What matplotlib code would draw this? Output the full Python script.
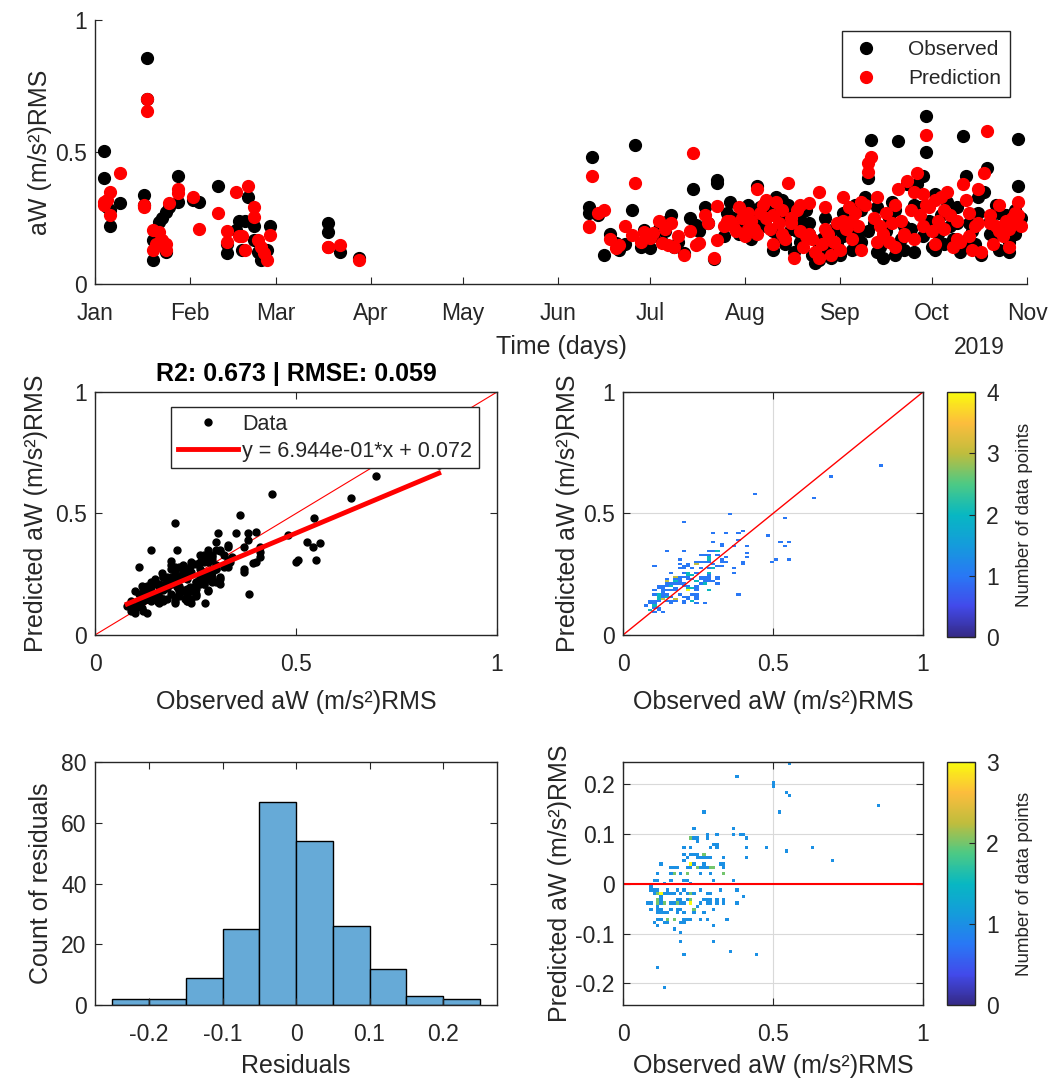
import numpy as np
import pandas as pd
import matplotlib
matplotlib.use("Agg")
import matplotlib.pyplot as plt
import matplotlib.dates as mdates
from matplotlib.colors import LinearSegmentedColormap
from matplotlib.ticker import FormatStrFormatter

# day of year (0 = 1 Jan 2019), observed and predicted aW values
days = [3, 3, 4, 5, 5, 8, 17, 17, 16, 16, 19, 19, 20, 21, 22, 23, 23, 24, 27, 27,
        32, 34, 40, 43, 43, 46, 47, 48, 49, 50, 52, 52, 53, 54, 55, 56, 57, 76, 76, 80, 86,
        161, 161, 162, 164, 166, 168, 170, 171, 173, 175, 176, 178, 179, 180, 181, 182, 184, 185, 186, 187,
        188, 189, 190, 192, 194, 195, 196, 197, 199, 200, 202, 203, 203, 205, 206, 207, 208, 209, 210, 211,
        212, 213, 213, 214, 215, 216, 216, 217, 218, 219, 219, 220, 221, 221, 222, 223, 224, 224, 225, 226,
        227, 227, 228, 229, 230, 230, 231, 232, 233, 233, 234, 235, 236, 236, 237, 238, 238, 239, 240, 241,
        241, 242, 243, 244, 244, 245, 246, 247, 247, 248, 249, 250, 250, 251, 252, 252, 253, 254, 255, 255,
        256, 257, 257, 258,
        259, 260, 261, 261, 262, 263, 264, 264, 265, 266, 267, 267, 268, 269, 270, 270, 271, 271, 272, 273,
        274, 274, 275, 276, 277, 277, 278, 279, 280, 281, 281, 282, 283, 284, 285, 285, 286, 287, 288, 288,
        289, 290, 291, 292, 292, 293, 294, 295, 295, 296, 297, 298, 298, 299, 300, 300, 301, 301, 302]

observed = [0.505, 0.40, 0.29, 0.22, 0.28, 0.305, 0.855, 0.70, 0.337, 0.30, 0.167, 0.09, 0.17, 0.236, 0.25,
            0.274, 0.12, 0.29, 0.41, 0.31, 0.32, 0.31, 0.37, 0.117, 0.15, 0.205, 0.24, 0.13, 0.24, 0.33,
            0.22, 0.167, 0.12, 0.09, 0.10, 0.13, 0.22, 0.23, 0.198, 0.123, 0.10,
            0.29, 0.27, 0.48, 0.26, 0.11, 0.19, 0.156, 0.13, 0.15, 0.28, 0.527, 0.14, 0.205, 0.17, 0.136,
            0.18, 0.21, 0.16, 0.20, 0.24, 0.26, 0.14, 0.16, 0.117, 0.25, 0.36, 0.223, 0.20, 0.29, 0.23,
            0.095, 0.394, 0.383, 0.18, 0.27, 0.31, 0.25, 0.21, 0.19, 0.23,
            0.22, 0.19, 0.30, 0.17, 0.26, 0.37, 0.21, 0.29, 0.24, 0.22, 0.28, 0.27, 0.20, 0.13, 0.33,
            0.18, 0.25, 0.32, 0.15, 0.30, 0.28, 0.21, 0.12, 0.20, 0.16, 0.26, 0.23, 0.28, 0.19, 0.23,
            0.11, 0.08, 0.14, 0.09, 0.17, 0.25, 0.18, 0.12, 0.10, 0.21, 0.13, 0.15, 0.11, 0.18, 0.27,
            0.27, 0.24, 0.13, 0.20, 0.30, 0.19, 0.28, 0.16, 0.33, 0.20, 0.40, 0.545, 0.23, 0.12, 0.29,
            0.14, 0.10, 0.21, 0.20,
            0.25, 0.31, 0.11, 0.28, 0.542, 0.17, 0.13, 0.22, 0.38, 0.21, 0.12, 0.30, 0.38, 0.29, 0.41,
            0.18, 0.636, 0.50, 0.24, 0.14, 0.34, 0.13, 0.19, 0.26, 0.15, 0.33, 0.31, 0.22, 0.17, 0.29,
            0.23, 0.12, 0.559, 0.41, 0.23, 0.14, 0.20, 0.15, 0.27, 0.33, 0.11, 0.35, 0.44, 0.24, 0.19,
            0.18, 0.30, 0.13, 0.27, 0.21, 0.26, 0.16, 0.12, 0.22, 0.19, 0.28, 0.55, 0.37, 0.25]

predicted = [0.31, 0.30, 0.32, 0.26, 0.35, 0.42, 0.70, 0.655, 0.30, 0.29, 0.205, 0.13, 0.15, 0.197, 0.167,
             0.13, 0.15, 0.308, 0.36, 0.345, 0.33, 0.21, 0.27, 0.20, 0.16, 0.35, 0.18, 0.18, 0.13, 0.37,
             0.29, 0.255, 0.167, 0.14, 0.117, 0.09, 0.186, 0.14, 0.14, 0.148, 0.09,
             0.217, 0.22, 0.41, 0.27, 0.28, 0.17, 0.136, 0.148, 0.22, 0.186, 0.384, 0.16, 0.198, 0.186, 0.174,
             0.193, 0.24, 0.155, 0.21, 0.148, 0.23, 0.14, 0.18, 0.11, 0.20, 0.495, 0.148, 0.155, 0.26, 0.23,
             0.10, 0.295, 0.167, 0.22, 0.24, 0.24, 0.22, 0.20, 0.29, 0.25,
             0.18, 0.21, 0.27, 0.24, 0.21, 0.36, 0.19, 0.27, 0.30, 0.25, 0.32, 0.21, 0.26, 0.15, 0.31,
             0.23, 0.19, 0.28, 0.17, 0.384, 0.25, 0.23, 0.10, 0.28, 0.20, 0.30, 0.14, 0.18, 0.306, 0.19,
             0.17, 0.12, 0.35, 0.10, 0.15, 0.293, 0.21, 0.19, 0.11, 0.16, 0.16, 0.23, 0.13, 0.24, 0.33,
             0.21, 0.29, 0.17, 0.24, 0.27, 0.22, 0.31, 0.13, 0.30, 0.46, 0.425, 0.48, 0.25, 0.16, 0.33,
             0.22, 0.18, 0.19, 0.27,
             0.16, 0.23, 0.14, 0.30, 0.36, 0.24, 0.19, 0.18, 0.39, 0.28, 0.17, 0.35, 0.42, 0.26, 0.34,
             0.22, 0.564, 0.30, 0.29, 0.20, 0.32, 0.15, 0.24, 0.33, 0.21, 0.28, 0.35, 0.26, 0.14, 0.24,
             0.17, 0.16, 0.38, 0.32, 0.27, 0.18, 0.13, 0.22, 0.23, 0.36, 0.12, 0.42, 0.58, 0.26, 0.23,
             0.15, 0.22, 0.20, 0.30, 0.18, 0.24, 0.21, 0.14, 0.25, 0.27, 0.23, 0.31, 0.26, 0.22]

# residual histogram (bin edges -0.25..0.25, width 0.05)
hist_edges = [-0.25, -0.2, -0.15, -0.1, -0.05, 0.0, 0.05, 0.1, 0.15, 0.2, 0.25]
hist_counts = [2, 2, 9, 25, 67, 54, 26, 12, 3, 2]

fit_slope = 0.6944
fit_intercept = 0.072
r2_text = "R2: 0.673 | RMSE: 0.059"

plt.rcParams["font.family"] = ["Liberation Sans", "DejaVu Sans"]
plt.rcParams["font.size"] = 16.5
dark = "#262626"
for k in ["axes.edgecolor", "text.color", "xtick.color", "ytick.color", "axes.labelcolor"]:
    plt.rcParams[k] = dark
plt.rcParams["xtick.direction"] = "in"
plt.rcParams["ytick.direction"] = "in"
plt.rcParams["xtick.major.size"] = 5
plt.rcParams["ytick.major.size"] = 5
plt.rcParams["xtick.major.pad"] = 13
plt.rcParams["ytick.major.pad"] = 6
plt.rcParams["axes.linewidth"] = 1.0

# parula-like colormap
parula = LinearSegmentedColormap.from_list("parula", [
    (0.000, (0.208, 0.166, 0.529)),
    (0.125, (0.259, 0.290, 0.920)),
    (0.250, (0.160, 0.470, 0.960)),
    (0.375, (0.080, 0.610, 0.860)),
    (0.500, (0.030, 0.720, 0.760)),
    (0.625, (0.300, 0.790, 0.520)),
    (0.750, (0.750, 0.740, 0.240)),
    (0.875, (0.990, 0.740, 0.240)),
    (1.000, (0.976, 0.983, 0.054)),
])

obs = np.array(observed)
pred = np.array(predicted)
resid = obs - pred
dates = pd.Timestamp("2019-01-01") + pd.to_timedelta(days, unit="D")

fig = plt.figure(figsize=(10.51, 10.88), dpi=100)
ylab = "Predicted aW (m/s²)RMS"
xlab = "Observed aW (m/s²)RMS"

# --- top: time series
ax = fig.add_axes([0.0904, 0.7390, 0.8868, 0.2426])
ax.plot(dates, obs, "o", color="black", ms=8.5, label="Observed")
ax.plot(dates, pred, "o", color="red", ms=8.5, label="Prediction")
ax.set_xlim(pd.Timestamp("2019-01-01"), pd.Timestamp("2019-11-01"))
ax.set_ylim(0, 1)
ax.set_yticks([0, 0.5, 1])
ax.yaxis.set_major_formatter(FormatStrFormatter("%g"))
ax.xaxis.set_major_locator(mdates.MonthLocator())
ax.xaxis.set_major_formatter(mdates.DateFormatter("%b"))
ax.spines["top"].set_visible(False)
ax.spines["right"].set_visible(False)
ax.set_ylabel("aW (m/s²)RMS", fontsize=18, labelpad=2)
ax.set_xlabel("Time (days)", fontsize=18, labelpad=7)
ax.text(0.976, -0.239, "2019", transform=ax.transAxes, ha="right", va="center", fontsize=16.5)
leg = ax.legend(loc="upper right", bbox_to_anchor=(0.982, 0.958), borderaxespad=0, fontsize=15,
                fancybox=False, edgecolor=dark, framealpha=1, numpoints=1, handlelength=1.4,
                handletextpad=1.3, borderpad=0.45, labelspacing=0.45)
leg.get_frame().set_linewidth(1.0)

# --- middle left: scatter with fit
ax = fig.add_axes([0.0904, 0.4164, 0.3825, 0.2233])
ax.plot([0, 1], [0, 1], color="red", lw=0.8)
ax.plot(obs, pred, "o", color="black", ms=5, label="Data")
fx = np.array([obs.min(), obs.max()])
ax.plot(fx, fit_slope * fx + fit_intercept, color="red", lw=3.5,
        label="y = 6.944e-01*x + 0.072")
ax.set_xlim(0, 1)
ax.set_ylim(0, 1)
ax.set_xticks([0, 0.5, 1])
ax.set_yticks([0, 0.5, 1])
ax.xaxis.set_major_formatter(FormatStrFormatter("%g"))
ax.yaxis.set_major_formatter(FormatStrFormatter("%g"))
ax.tick_params(top=True, right=True)
ax.set_xlabel(xlab, fontsize=18, labelpad=10)
ax.set_ylabel(ylab, fontsize=18, labelpad=5)
ax.set_title(r2_text, fontsize=18, fontweight="bold", color="black", pad=8)
leg = ax.legend(loc="upper right", bbox_to_anchor=(0.955, 0.938), borderaxespad=0, fontsize=15.5,
                fancybox=False, edgecolor=dark, framealpha=1, handlelength=2.8, handletextpad=0.2,
                borderpad=0.3, labelspacing=0.3)
leg.get_frame().set_linewidth(1.0)

# --- middle right: density heatmap
ax = fig.add_axes([0.5928, 0.4164, 0.2854, 0.2233])
xe = np.arange(0, 1.0001, 0.014)
ye = np.arange(0, 1.0001, 0.009)
H, _, _ = np.histogram2d(obs, pred, bins=[xe, ye])
mesh = ax.pcolormesh(xe, ye, np.ma.masked_equal(H, 0).T, cmap=parula, vmin=0, vmax=4)
ax.plot([0, 1], [0, 1], color="red", lw=1.0)
ax.set_xlim(0, 1)
ax.set_ylim(0, 1)
ax.set_xticks([0, 0.5, 1])
ax.set_yticks([0, 0.5, 1])
ax.xaxis.set_major_formatter(FormatStrFormatter("%g"))
ax.yaxis.set_major_formatter(FormatStrFormatter("%g"))
ax.grid(True, color="#d9d9d9", lw=0.8)
ax.set_axisbelow(True)
ax.tick_params(top=True, right=True)
ax.set_xlabel(xlab, fontsize=18, labelpad=10)
ax.set_ylabel(ylab, fontsize=18, labelpad=2)
cax = fig.add_axes([0.9011, 0.4145, 0.0266, 0.2252])
cb = fig.colorbar(mesh, cax=cax, ticks=[0, 1, 2, 3, 4])
cb.outline.set_edgecolor(dark)
cb.ax.tick_params(direction="in", length=4, labelsize=16.5, pad=8)
cb.set_label("Number of data points", fontsize=13.5, labelpad=12)

# --- bottom left: residual histogram
ax = fig.add_axes([0.0904, 0.0763, 0.3825, 0.2233])
centers = np.array(hist_edges[:-1]) + 0.025
ax.hist(centers, bins=hist_edges, weights=hist_counts, color="#66aad7",
        edgecolor="black", linewidth=1.0)
ax.set_xlim(-0.2735, 0.2735)
ax.set_ylim(0, 80)
ax.set_xticks([-0.2, -0.1, 0, 0.1, 0.2])
ax.set_yticks([0, 20, 40, 60, 80])
ax.xaxis.set_major_formatter(FormatStrFormatter("%g"))
ax.tick_params(top=True, right=True)
ax.set_xlabel("Residuals", fontsize=18, labelpad=6)
ax.set_ylabel("Count of residuals", fontsize=18, labelpad=6)

# --- bottom right: residual density heatmap
ax = fig.add_axes([0.5928, 0.0763, 0.2854, 0.2233])
xe2 = np.arange(0, 1.0001, 0.011)
ye2 = np.arange(-0.25, 0.2501, 0.0065)
H2, _, _ = np.histogram2d(obs, resid, bins=[xe2, ye2])
mesh2 = ax.pcolormesh(xe2, ye2, np.ma.masked_equal(H2, 0).T, cmap=parula, vmin=0, vmax=3)
ax.axhline(0, color="red", lw=1.5)
ax.set_xlim(0, 1)
ax.set_ylim(-0.243, 0.243)
ax.set_xticks([0, 0.5, 1])
ax.set_yticks([-0.2, -0.1, 0, 0.1, 0.2])
ax.xaxis.set_major_formatter(FormatStrFormatter("%g"))
ax.yaxis.set_major_formatter(FormatStrFormatter("%g"))
ax.grid(True, color="#d9d9d9", lw=0.8)
ax.set_axisbelow(True)
ax.tick_params(top=True, right=True)
ax.set_xlabel(xlab, fontsize=18, labelpad=6)
ax.set_ylabel(ylab, fontsize=18, labelpad=2)
cax2 = fig.add_axes([0.9011, 0.0763, 0.0266, 0.2233])
cb2 = fig.colorbar(mesh2, cax=cax2, ticks=[0, 1, 2, 3])
cb2.outline.set_edgecolor(dark)
cb2.ax.tick_params(direction="in", length=4, labelsize=16.5, pad=8)
cb2.set_label("Number of data points", fontsize=13.5, labelpad=12)

fig.savefig("out.png", dpi=100)
